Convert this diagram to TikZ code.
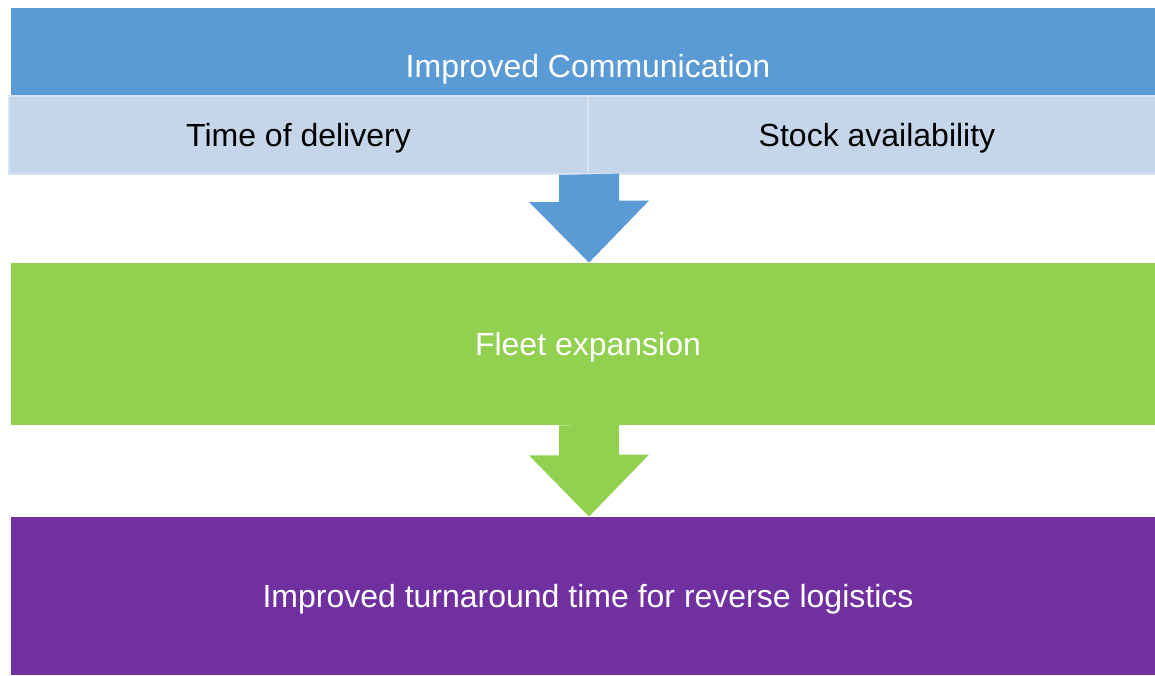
\documentclass[tikz,border=0pt]{standalone}
\usepackage{fontspec}
\setmainfont{Liberation Sans}
\usepackage{tikz}
\usetikzlibrary{shapes}

\definecolor{commblue}{HTML}{5B9BD5}
\definecolor{cellblue}{HTML}{C5D6EB}
\definecolor{celledge}{HTML}{D9E4F2}
\definecolor{fleetgreen}{HTML}{92D050}
\definecolor{turnpurple}{HTML}{7030A0}

\begin{document}
\begin{tikzpicture}[x=0.5pt,y=-0.5pt]
    \tikzstyle{every node}=[font=\fontsize{16}{19}\selectfont, inner sep=0pt, text height=15pt, text depth=3.5pt]
    \tikzstyle{bar}=[rectangle, minimum width=577pt]
    \tikzstyle{cell}=[rectangle, fill=cellblue, draw=celledge, line width=1pt, minimum height=39pt, text=black]
    \useasboundingbox (0,0) rectangle (1155,675);
    \node[bar, fill=commblue, minimum height=43.5pt] (comm) at (588,51.5) {};
    \node[text=white] (commtext) at (588,66) {Improved Communication};
    \node[cell, minimum width=289.5pt] (tdel) at (298.5,135) {Time of delivery};
    \node[cell, minimum width=289pt] (stock) at (877,135) {Stock availability};
    \node[bar, fill=fleetgreen, minimum height=81pt, text=white] (fleet) at (588,344) {Fleet expansion};
    \node[bar, fill=turnpurple, minimum height=79pt, text=white] (turn) at (588,596) {Improved turnaround time for reverse logistics};
    \fill[commblue] (tdel.south east) ++(-30,0) -- ++(0,27) -- ++(-30,0)
      -- (fleet.north -| tdel.south east) -- ++(60,-62) -- ++(-30,0) -- ++(0,-27) -- cycle;
    \fill[fleetgreen] (fleet.south -| tdel.south east) ++(-30,0) -- ++(0,30) -- ++(-30,0)
      -- (turn.north -| tdel.south east) -- ++(60,-62) -- ++(-30,0) -- ++(0,-30) -- cycle;
\end{tikzpicture}
\end{document}
